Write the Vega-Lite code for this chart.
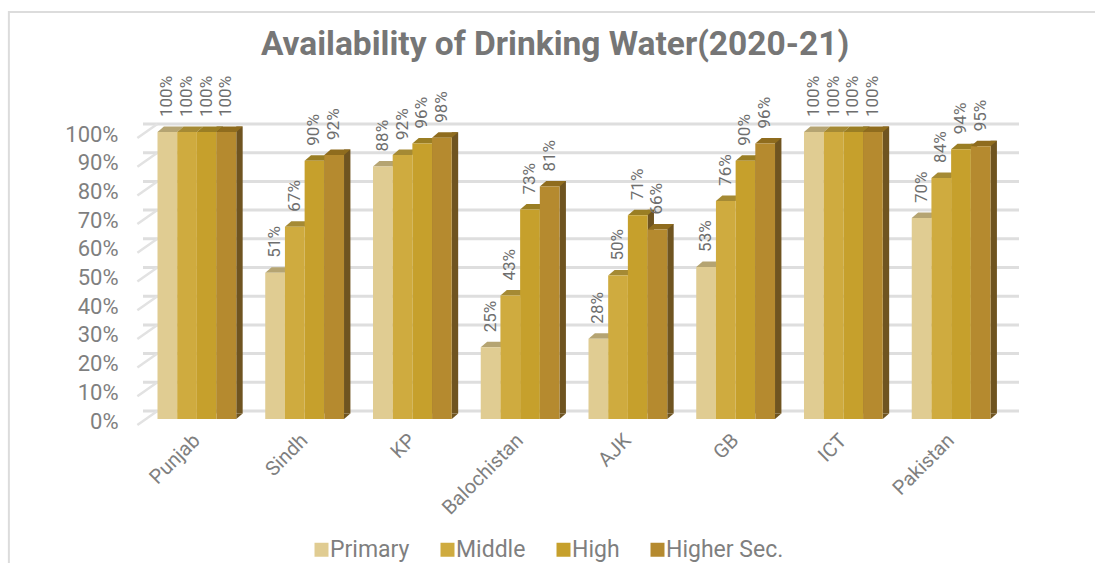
{"$schema":"https://vega.github.io/schema/vega-lite/v6.json","width":862,"height":287,"autosize":"none","padding":{"left":143,"top":132,"right":90,"bottom":144},"background":"white","title":{"text":"Availability of Drinking Water(2020-21)","font":"Roboto","fontSize":33.5,"fontWeight":"bold","color":"#767676","anchor":"middle","dx":-19,"offset":-54},"datasets":{"ticks":[{"t":0},{"t":0.1},{"t":0.2},{"t":0.3},{"t":0.4},{"t":0.5},{"t":0.6},{"t":0.7},{"t":0.8},{"t":0.9},{"t":1}],"rows":[{"region":"Punjab","level":"Primary","share":1},{"region":"Punjab","level":"Middle","share":1},{"region":"Punjab","level":"High","share":1},{"region":"Punjab","level":"Higher Sec.","share":1},{"region":"Sindh","level":"Primary","share":0.51},{"region":"Sindh","level":"Middle","share":0.67},{"region":"Sindh","level":"High","share":0.9},{"region":"Sindh","level":"Higher Sec.","share":0.92},{"region":"KP","level":"Primary","share":0.88},{"region":"KP","level":"Middle","share":0.92},{"region":"KP","level":"High","share":0.96},{"region":"KP","level":"Higher Sec.","share":0.98},{"region":"Balochistan","level":"Primary","share":0.25},{"region":"Balochistan","level":"Middle","share":0.43},{"region":"Balochistan","level":"High","share":0.73},{"region":"Balochistan","level":"Higher Sec.","share":0.81},{"region":"AJK","level":"Primary","share":0.28},{"region":"AJK","level":"Middle","share":0.5},{"region":"AJK","level":"High","share":0.71},{"region":"AJK","level":"Higher Sec.","share":0.66},{"region":"GB","level":"Primary","share":0.53},{"region":"GB","level":"Middle","share":0.76},{"region":"GB","level":"High","share":0.9},{"region":"GB","level":"Higher Sec.","share":0.96},{"region":"ICT","level":"Primary","share":1},{"region":"ICT","level":"Middle","share":1},{"region":"ICT","level":"High","share":1},{"region":"ICT","level":"Higher Sec.","share":1},{"region":"Pakistan","level":"Primary","share":0.7},{"region":"Pakistan","level":"Middle","share":0.84},{"region":"Pakistan","level":"High","share":0.94},{"region":"Pakistan","level":"Higher Sec.","share":0.95}]},"data":{"name":"rows"},"encoding":{"x":{"field":"region","type":"nominal","sort":["Punjab","Sindh","KP","Balochistan","AJK","GB","ICT","Pakistan"],"scale":{"paddingInner":0.269,"paddingOuter":0.1345},"axis":{"title":null,"labelAngle":-45,"labelAlign":"right","labelBaseline":"middle","labelFont":"Roboto","labelFontSize":20,"labelColor":"#7f7f7f","ticks":false,"domain":false,"labelPadding":18}}},"layer":[{"data":{"name":"ticks"},"mark":{"type":"rule","xOffset":14,"yOffset":-8,"stroke":"#dedede","strokeWidth":3},"encoding":{"x":null,"y":{"field":"t","type":"quantitative","scale":{"domain":[0,1]},"axis":{"title":null,"values":[0,0.1,0.2,0.3,0.4,0.5,0.6,0.7,0.8,0.9,1],"format":".0%","labelFont":"Roboto","labelFontSize":22,"labelColor":"#7f7f7f","ticks":false,"domain":false,"grid":false,"labelPadding":25,"labelOffset":2,"labelOverlap":false}}}},{"data":{"name":"ticks"},"mark":{"type":"point","shape":"M-59.5,6L-39.5,-8","size":4,"filled":false,"stroke":"#e2e2e2","strokeWidth":2.5,"opacity":1},"encoding":{"x":{"datum":"Punjab"},"y":{"field":"t","type":"quantitative","scale":{"domain":[0,1]},"axis":{"title":null,"values":[0,0.1,0.2,0.3,0.4,0.5,0.6,0.7,0.8,0.9,1],"format":".0%","labelFont":"Roboto","labelFontSize":22,"labelColor":"#7f7f7f","ticks":false,"domain":false,"grid":false,"labelPadding":25,"labelOffset":2,"labelOverlap":false}}}},{"transform":[{"filter":"datum.level === 'High'"}],"mark":{"type":"bar","width":6.4,"xOffset":22.9,"yOffset":-5.5,"fill":"#6f5420"},"encoding":{"y":{"field":"share","type":"quantitative","scale":{"domain":[0,1]},"axis":{"title":null,"values":[0,0.1,0.2,0.3,0.4,0.5,0.6,0.7,0.8,0.9,1],"format":".0%","labelFont":"Roboto","labelFontSize":22,"labelColor":"#7f7f7f","ticks":false,"domain":false,"grid":false,"labelPadding":25,"labelOffset":2,"labelOverlap":false}}}},{"transform":[{"filter":"datum.level === 'Higher Sec.'"}],"mark":{"type":"bar","width":6.4,"xOffset":42.6,"yOffset":-5.5,"fill":"#6f5420"},"encoding":{"y":{"field":"share","type":"quantitative","scale":{"domain":[0,1]},"axis":{"title":null,"values":[0,0.1,0.2,0.3,0.4,0.5,0.6,0.7,0.8,0.9,1],"format":".0%","labelFont":"Roboto","labelFontSize":22,"labelColor":"#7f7f7f","ticks":false,"domain":false,"grid":false,"labelPadding":25,"labelOffset":2,"labelOverlap":false}}}},{"transform":[{"filter":"datum.level === 'Higher Sec.'"}],"mark":{"type":"point","shape":"M-3.2,0L3.2,-5.5L-3.2,-5.5Z","size":4,"filled":true,"opacity":1,"strokeWidth":0,"fill":"#6f5420","xOffset":42.6},"encoding":{"y":{"datum":0,"scale":{"domain":[0,1]},"axis":{"title":null,"values":[0,0.1,0.2,0.3,0.4,0.5,0.6,0.7,0.8,0.9,1],"format":".0%","labelFont":"Roboto","labelFontSize":22,"labelColor":"#7f7f7f","ticks":false,"domain":false,"grid":false,"labelPadding":25,"labelOffset":2,"labelOverlap":false}}}},{"mark":{"type":"point","shape":"M-9.85,0L9.85,0L16.25,-5.5L-3.45,-5.5Z","size":4,"filled":true,"opacity":1,"strokeWidth":0},"encoding":{"xOffset":{"field":"level","type":"nominal","sort":["Primary","Middle","High","Higher Sec."],"scale":{"paddingInner":0,"paddingOuter":0}},"y":{"field":"share","type":"quantitative","scale":{"domain":[0,1]},"axis":{"title":null,"values":[0,0.1,0.2,0.3,0.4,0.5,0.6,0.7,0.8,0.9,1],"format":".0%","labelFont":"Roboto","labelFontSize":22,"labelColor":"#7f7f7f","ticks":false,"domain":false,"grid":false,"labelPadding":25,"labelOffset":2,"labelOverlap":false}},"fill":{"field":"level","type":"nominal","legend":null,"scale":{"domain":["Primary","Middle","High","Higher Sec."],"range":["#b5a472","#a58a34","#9a7e24","#8f6c1e"]}}}},{"mark":{"type":"bar"},"encoding":{"xOffset":{"field":"level","type":"nominal","sort":["Primary","Middle","High","Higher Sec."],"scale":{"paddingInner":0,"paddingOuter":0}},"y":{"field":"share","type":"quantitative","scale":{"domain":[0,1]},"axis":{"title":null,"values":[0,0.1,0.2,0.3,0.4,0.5,0.6,0.7,0.8,0.9,1],"format":".0%","labelFont":"Roboto","labelFontSize":22,"labelColor":"#7f7f7f","ticks":false,"domain":false,"grid":false,"labelPadding":25,"labelOffset":2,"labelOverlap":false}},"fill":{"field":"level","type":"nominal","scale":{"domain":["Primary","Middle","High","Higher Sec."],"range":["#e0cc92","#cfab3f","#c6a02c","#b58a2f"]},"legend":{"title":null,"orient":"none","legendX":167,"legendY":406,"direction":"horizontal","columns":4,"symbolType":"square","symbolSize":196,"symbolStrokeWidth":0,"labelFont":"Roboto","labelFontSize":23,"labelColor":"#7f7f7f","columnPadding":26,"labelOffset":-3}}}},{"mark":{"type":"text","angle":270,"align":"left","baseline":"middle","yOffset":-15,"font":"Roboto","fontSize":17,"color":"#6e6e6e"},"encoding":{"xOffset":{"field":"level","type":"nominal","sort":["Primary","Middle","High","Higher Sec."],"scale":{"paddingInner":0,"paddingOuter":0}},"y":{"field":"share","type":"quantitative","scale":{"domain":[0,1]},"axis":{"title":null,"values":[0,0.1,0.2,0.3,0.4,0.5,0.6,0.7,0.8,0.9,1],"format":".0%","labelFont":"Roboto","labelFontSize":22,"labelColor":"#7f7f7f","ticks":false,"domain":false,"grid":false,"labelPadding":25,"labelOffset":2,"labelOverlap":false}},"text":{"field":"share","type":"quantitative","format":".0%"}}},{"data":{"values":[{"frame":1}]},"mark":{"type":"point","shape":"M-188,144L-188,-407L900,-407","size":4,"filled":false,"stroke":"#dcdcdc","strokeWidth":2,"opacity":1},"encoding":{"x":{"datum":"Punjab"},"y":{"datum":0,"scale":{"domain":[0,1]},"axis":{"title":null,"values":[0,0.1,0.2,0.3,0.4,0.5,0.6,0.7,0.8,0.9,1],"format":".0%","labelFont":"Roboto","labelFontSize":22,"labelColor":"#7f7f7f","ticks":false,"domain":false,"grid":false,"labelPadding":25,"labelOffset":2,"labelOverlap":false}}}}],"resolve":{"scale":{"fill":"independent"}},"config":{"view":{"stroke":null}}}
